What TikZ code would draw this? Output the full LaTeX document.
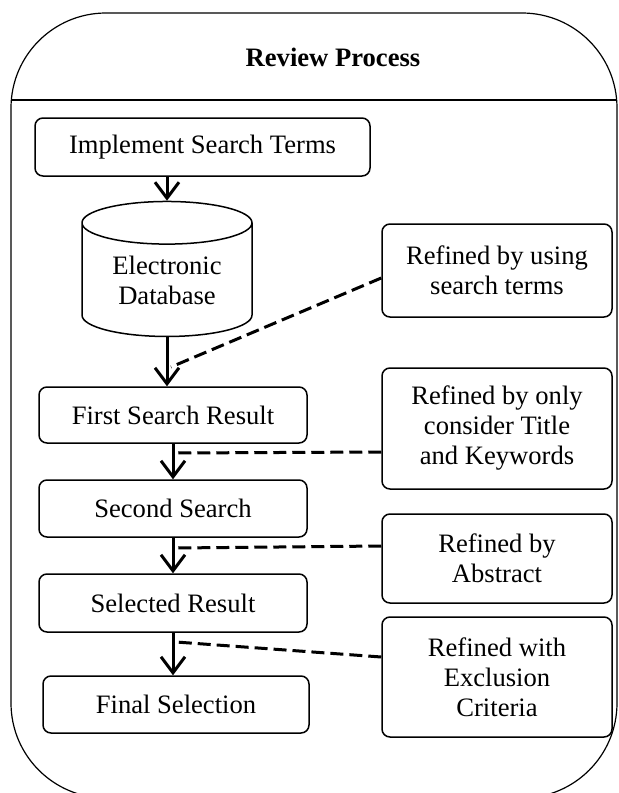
\documentclass[tikz,border=0pt]{standalone}
\usepackage{fontspec}
\setmainfont{Liberation Serif}
\usetikzlibrary{shapes,shapes.geometric,arrows.meta,calc}

\begin{document}
\begin{tikzpicture}
	[x=0.5pt,y=-0.5pt,every node/.style={font=\fontsize{13.3pt}{15pt}\selectfont,
		align=center,inner sep=0pt},
	stage/.style={draw,line width=0.75pt,rounded corners=4pt},
	store/.style={draw,line width=0.75pt,cylinder,shape border rotate=90,aspect=0.39},
	flow/.style={line width=1.5pt,-{Straight Barb[length=8pt,width=12pt]}},
	note/.style={line width=1.5pt,dash pattern=on 6.5pt off 3pt}]
	\path[use as bounding box,clip] (0,0) rectangle (618,793);
	% frame
	\draw[line width=0.6pt,rounded corners=47.5pt] (11,798) rectangle (617,13);
	\draw[line width=0.6pt] (11,100) -- (617,100);
	\node[font=\fontsize{13.3pt}{15pt}\selectfont\bfseries] (title) at (333,57) {Review Process};
	% left column
	\node[stage,minimum width=167.5pt,minimum height=29pt] (impl) at (202.5,147) {Implement Search Terms};
	\node[store,minimum width=85pt,minimum height=67.5pt] (db) at (167,280) {Electronic\\Database};
	\node[stage,minimum width=134pt,minimum height=28pt] (first) at (173,415) {First Search Result};
	\node[stage,minimum width=134pt,minimum height=28.5pt] (second) at (173,508.5) {Second Search};
	\node[stage,minimum width=134pt,minimum height=29pt] (sel) at (173,603) {Selected Result};
	\node[stage,minimum width=133pt,minimum height=28.5pt] (fin) at (176,704.5) {Final Selection};
	% right column
	\node[stage,minimum width=115pt,minimum height=46.5pt] (r1) at (497,270.5) {Refined by using\\search terms};
	\node[stage,minimum width=115pt,minimum height=60.5pt] (r2) at (497,428.5) {Refined by only\\consider Title\\and Keywords};
	\node[stage,minimum width=115pt,minimum height=44.5pt] (r3) at (497,558.5) {Refined by\\Abstract};
	\node[stage,minimum width=115pt,minimum height=60pt] (r4) at (497,677) {Refined with\\Exclusion\\Criteria};
	% joins on the arrows
	\coordinate (j1) at (171,367);
	\coordinate (j2) at (175,453);
	\coordinate (j3) at (175,548);
	\coordinate (j4) at (176,642);
	\draw[flow] (impl.south -| db.north) -- (db.north);
	\draw[flow] (db.south) -- (db.south |- first.north);
	\foreach \a/\b in {first/second,second/sel}
		\draw[flow] (\a.south) -- (\b.north);
	\draw[flow] (sel.south) -- (sel.south |- fin.north);
	\path
	\foreach \note/\dy/\join in {r1/-3.75pt/j1,r2/-11.75pt/j2,r3/6.25pt/j3,r4/10pt/j4}
	{
		([yshift=\dy]\note.west) edge[note] (\join)
	};
\end{tikzpicture}
\end{document}
